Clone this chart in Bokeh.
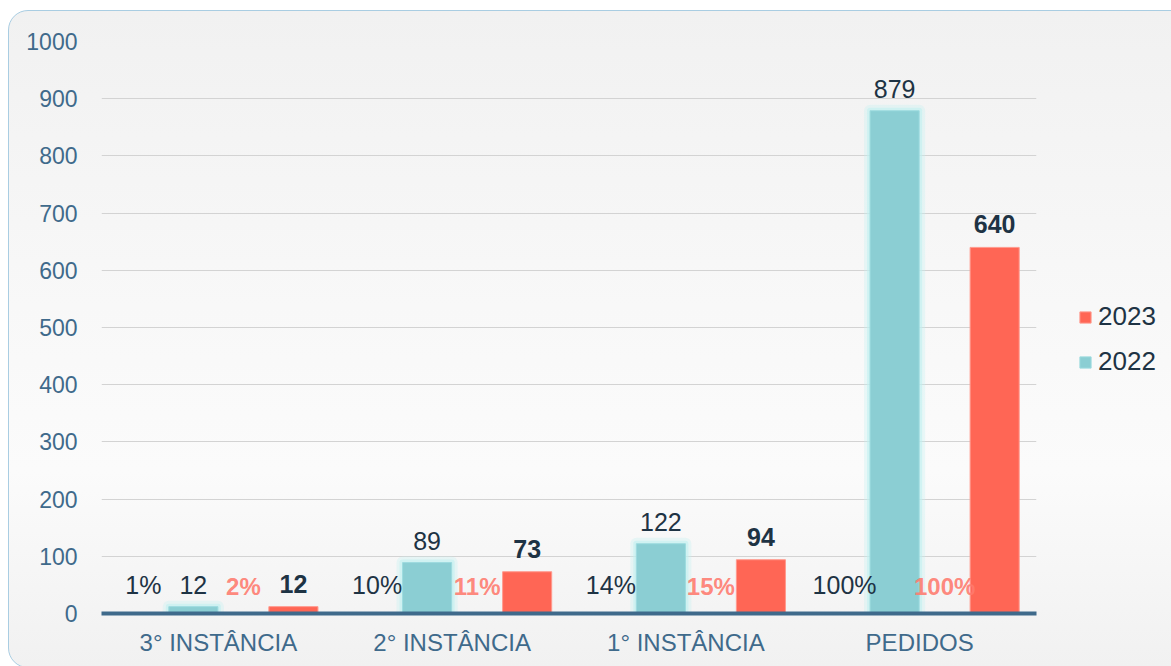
from bokeh.plotting import figure
from bokeh.models import ColumnDataSource, FactorRange, Legend, LegendItem, SingleIntervalTicker
from bokeh.transform import dodge
from bokeh.core.properties import value
from bokeh.embed import file_html
from bokeh.resources import INLINE

categories = ["3° INSTÂNCIA", "2° INSTÂNCIA", "1° INSTÂNCIA", "PEDIDOS"]
values_2022 = [12, 89, 122, 879]
values_2023 = [12, 73, 94, 640]
pct_2022 = ["1%", "10%", "14%", "100%"]
pct_2023 = ["2%", "11%", "15%", "100%"]

FONT = value("Liberation Sans")
TEAL = "#8bced3"
RED = "#ff6655"
DARK = "#1e3344"
AXIS_BLUE = "#3f6a8b"

src = ColumnDataSource(dict(
    cat=categories,
    v22=values_2022, v23=values_2023,
    l22=[str(v) for v in values_2022], l23=[str(v) for v in values_2023],
    p22=pct_2022, p23=pct_2023,
    zero=[0] * len(categories),
))

p = figure(
    x_range=FactorRange(factors=categories, range_padding=0),
    y_range=(0, 1000),
    frame_width=935, frame_height=572,
    output_backend="svg", toolbar_location=None,
    min_border_left=92, min_border_right=136, min_border_top=30, min_border_bottom=54,
)
p.margin = (10, 0, 0, 8)
p.styles = {
    "background": "linear-gradient(180deg, #f1f1f1 0%, #f8f8f8 45%, #fbfbfb 70%, #f1f1f1 100%)",
    "border": "1.5px solid #a9cde2",
    "border-radius": "20px",
}
p.background_fill_alpha = 0
p.border_fill_alpha = 0
p.outline_line_color = None

OFF = 0.214
x_p22 = dodge("cat", -1.5 * OFF, range=p.x_range)
x_v22 = dodge("cat", -0.5 * OFF, range=p.x_range)
x_p23 = dodge("cat", 0.5 * OFF, range=p.x_range)
x_v23 = dodge("cat", 1.5 * OFF, range=p.x_range)
BW = 0.21

# glow for teal bars
p.vbar(x=x_v22, top="v22", bottom=0, width=BW, source=src, fill_alpha=0,
       line_color="#c6f2f2", line_width=12, line_alpha=0.35, line_join="round")
p.vbar(x=x_v22, top="v22", bottom=0, width=BW, source=src, fill_alpha=0,
       line_color="#c2f0f0", line_width=6, line_alpha=0.6, line_join="round")
r22 = p.vbar(x=x_v22, top="v22", bottom=0, width=BW, source=src,
             fill_color=TEAL, line_color="#9ddbdf", line_width=1)
r23 = p.vbar(x=x_v23, top="v23", bottom=0, width=BW, source=src,
             fill_color=RED, line_color="#ff9a8e", line_width=1)

# value labels
p.text(x=x_v22, y="v22", text="l22", source=src, text_font=FONT, text_font_size="25px",
       text_color=DARK, text_align="center", text_baseline="alphabetic", y_offset=-22)
p.text(x=x_v23, y="v23", text="l23", source=src, text_font=FONT, text_font_size="25px",
       text_font_style="bold", text_color=DARK, text_align="center",
       text_baseline="alphabetic", y_offset=-23)
# percentage labels
p.text(x=x_p22, y="zero", text="p22", source=src, text_font=FONT, text_font_size="25px",
       text_color=DARK, text_align="center", text_baseline="alphabetic", y_offset=-29)
p.text(x=x_p23, y="zero", text="p23", source=src, text_font=FONT, text_font_size="24px",
       text_font_style="bold", text_color="#ff7a6e", text_alpha=0.9, text_align="center",
       text_baseline="alphabetic", y_offset=-27)

# axes
p.yaxis.ticker = SingleIntervalTicker(interval=100)
p.yaxis.axis_line_color = None
p.yaxis.major_tick_line_color = None
p.yaxis.minor_tick_line_color = None
p.yaxis.major_tick_out = 0
p.yaxis.major_label_standoff = 20
p.yaxis.major_label_text_font = "Liberation Sans"
p.yaxis.major_label_text_font_size = "23px"
p.yaxis.major_label_text_color = AXIS_BLUE

p.xaxis.axis_line_color = AXIS_BLUE
p.xaxis.axis_line_width = 4
p.xaxis.major_tick_line_color = None
p.xaxis.minor_tick_line_color = None
p.xaxis.major_tick_out = 0
p.xaxis.major_label_standoff = 15
p.xaxis.major_label_text_font = "Liberation Sans"
p.xaxis.major_label_text_font_size = "24px"
p.xaxis.major_label_text_color = AXIS_BLUE

p.xgrid.grid_line_color = None
p.ygrid.grid_line_color = "#d3d3d3"
p.ygrid.grid_line_width = 1

legend = Legend(items=[LegendItem(label="2023", renderers=[r23]),
                       LegendItem(label="2022", renderers=[r22])],
                location=(42, 236), orientation="vertical",
                background_fill_alpha=0, border_line_color=None,
                glyph_width=14, glyph_height=14, label_standoff=6,
                spacing=14, padding=0, margin=0,
                label_text_font="Liberation Sans", label_text_font_size="26px",
                label_text_color=DARK)
p.add_layout(legend, "right")

open("out.html", "w").write(file_html(p, INLINE))
